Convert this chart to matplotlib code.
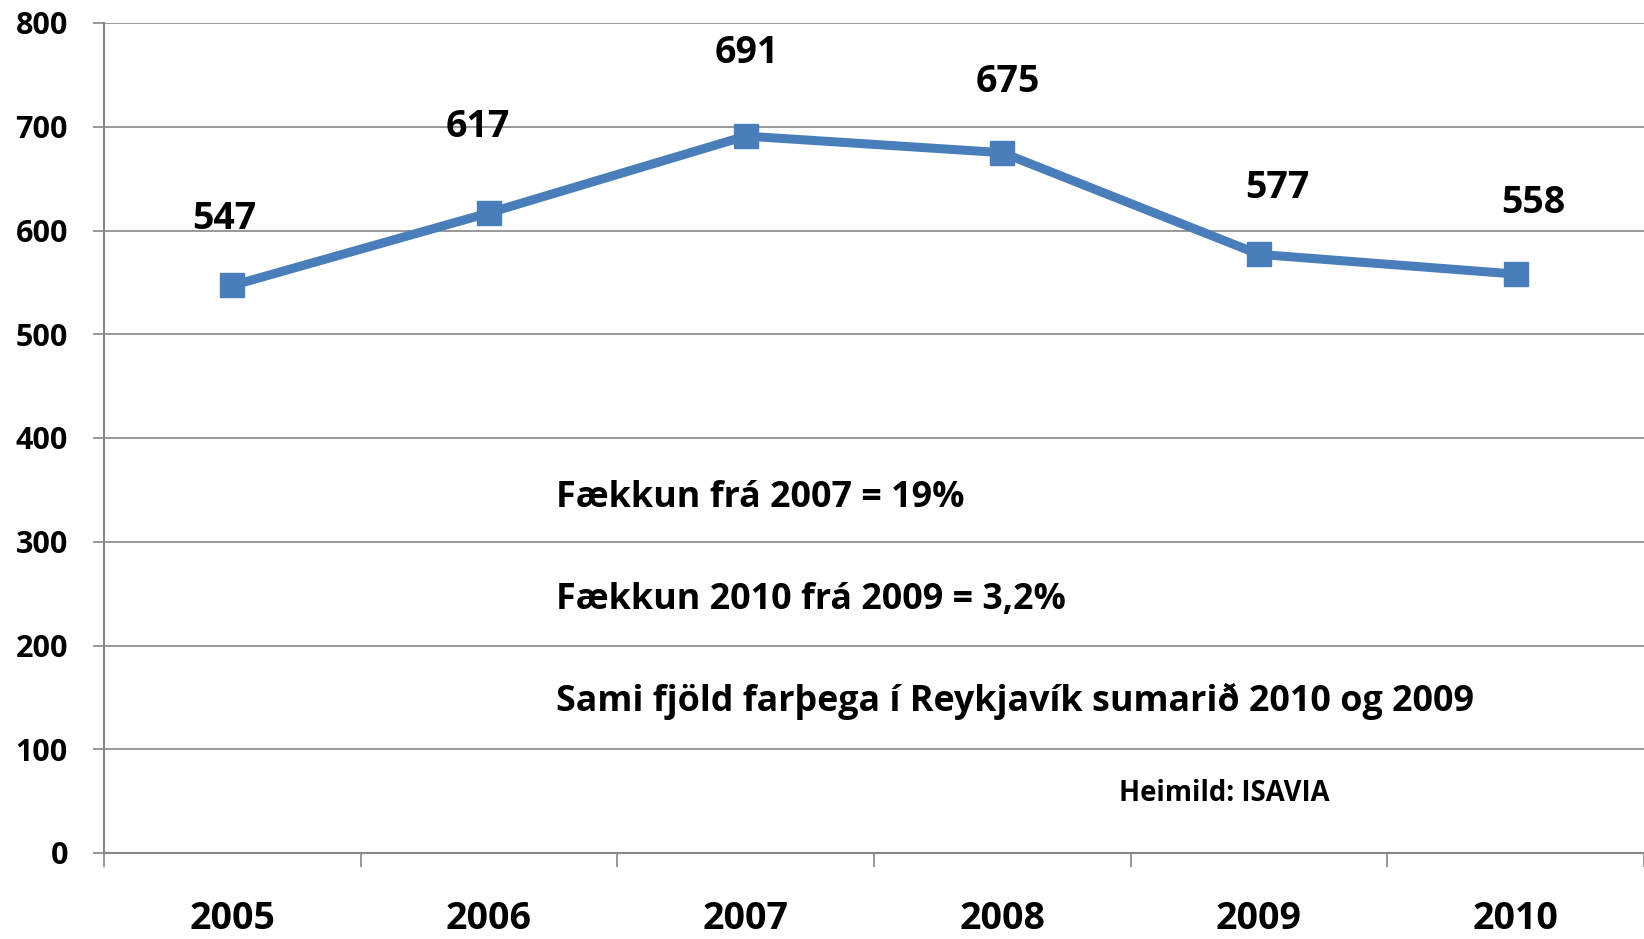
import matplotlib
matplotlib.use("Agg")
from matplotlib import pyplot as plt

plt.rcParams['font.family'] = ['Open Sans', 'DejaVu Sans']
plt.rcParams['font.weight'] = 'bold'

years = ['2005', '2006', '2007', '2008', '2009', '2010']
values = [547, 617, 691, 675, 577, 558]

notes = ['Fækkun frá 2007 = 19%',
         'Fækkun 2010 frá 2009 = 3,2%',
         'Sami fjöld farþega í Reykjavík sumarið 2010 og 2009']
source = 'Heimild: ISAVIA'

# label offsets (points) - hand placed like the original
lbl_dx = [-6, -8, 1, 4, 13, 13]
lbl_dy = [48, 62, 60, 51, 48, 51]

GRID = '#868686'
BLUE = '#4A7EBB'

fig = plt.figure(figsize=(16.44, 9.39), dpi=100)
ax = fig.add_axes([104/1644, 86/939, 1 - 104/1644, 830/939])

x = list(range(len(years)))
ax.plot(x, values, color=BLUE, lw=6.5, marker='s', ms=17, mfc=BLUE, mec=BLUE,
        solid_joinstyle='miter', zorder=3)

for i, v in enumerate(values):
    ax.annotate(str(v), (x[i], v), xytext=(lbl_dx[i], lbl_dy[i]),
                textcoords='offset points', ha='center', va='center',
                fontsize=27, fontweight='bold', color='black')

ax.set_xlim(-0.5, -0.5 + 1540/257.2)
ax.set_ylim(0, 800)
ax.set_yticks(range(0, 801, 100))
ax.set_xticks(x)
ax.set_xticklabels(years)
ax.set_xticks([i + 0.5 for i in range(-1, 6)], minor=True)

ax.grid(axis='y', color=GRID, lw=1.2)
ax.set_axisbelow(True)
for s in ['top', 'right']:
    ax.spines[s].set_visible(False)
for s in ['left', 'bottom']:
    ax.spines[s].set_color(GRID)
    ax.spines[s].set_linewidth(1.5)

ax.tick_params(axis='y', length=8, width=1.2, color=GRID, pad=18, labelsize=22)
ax.tick_params(axis='x', which='major', length=0, pad=34, labelsize=27)
ax.tick_params(axis='x', which='minor', length=10, width=1.2, color=GRID)
for t in ax.get_xticklabels() + ax.get_yticklabels():
    t.set_fontweight('bold')

note_y = [342, 244, 146]
for txt, yy in zip(notes, note_y):
    ax.text(1.261, yy, txt, ha='left', va='center', fontsize=25.8, fontweight='bold')
ax.text(3.866, 57, source, ha='center', va='center', fontsize=19.8, fontweight='bold')

fig.savefig('out.png', dpi=100)
